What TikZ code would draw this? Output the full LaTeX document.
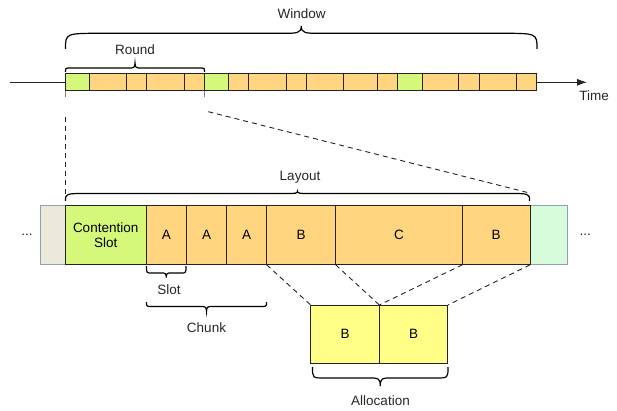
\documentclass[tikz,border=0pt]{standalone}
\usepackage{fontspec}
\setmainfont{Liberation Sans}
\usetikzlibrary{arrows.meta}
\definecolor{orng}{RGB}{255,213,128}
\definecolor{lgreen}{RGB}{213,247,122}
\definecolor{beige}{RGB}{236,232,218}
\definecolor{mint}{RGB}{214,252,220}
\definecolor{ylw}{RGB}{255,255,136}
\definecolor{edge}{RGB}{35,35,35}
\definecolor{greyedge}{RGB}{140,165,170}
\newcommand\tcellat[4]{\node[tcell, fill=#4, minimum width={(#3-#2)*1pt}] (#1) at ({(#2+#3)/2},82.3) {};}
\newcommand\bcellat[5]{\node[bcell, fill=#4, minimum width={(#3-#2)*1pt}] (#1) at ({(#2+#3)/2},235) {#5};}
% x1, x2, yend, yline, ytip, curl, tipw
\newcommand\cbrace[7]{%
 \draw[braceln] (#1,#3) .. controls (#1,#4) .. ({#1+#6},#4) -- ({(#1+#2)/2-#7},#4)
  .. controls ({(#1+#2)/2-0.25*#7},#4) and ({(#1+#2)/2},#4) .. ({(#1+#2)/2},#5)
  .. controls ({(#1+#2)/2},#4) and ({(#1+#2)/2+0.25*#7},#4) .. ({(#1+#2)/2+#7},#4)
  -- ({#2-#6},#4) .. controls (#2,#4) .. (#2,#3);}
\begin{document}
\begin{tikzpicture}[x=1pt,y=-1pt, font=\fontsize{13.5}{15.5}\selectfont,
 cell/.style={draw=edge, line width=1pt, inner sep=0pt, outer sep=0pt, align=center},
 tcell/.style={cell, minimum height=16.7pt},
 bcell/.style={cell, minimum height=59.7pt},
 acell/.style={cell, fill=ylw, minimum width=68.6pt, minimum height=58pt},
 dashln/.style={draw=edge, line width=0.9pt, dash pattern=on 5pt off 4pt},
 braceln/.style={draw=black, line width=1.2pt},
 lbl/.style={anchor=base, inner sep=0pt, text=black!85},
 tick/.style={draw=black!50, line width=1pt}]
\useasboundingbox (0,0) rectangle (617,411);
% timeline
\coordinate (tstart) at (10,82.3);
\coordinate (tend) at (587,82.3);
\tcellat{t1}{65}{89.6}{lgreen}
\tcellat{t2}{89.6}{126}{orng}
\tcellat{t3}{126}{146.3}{orng}
\tcellat{t4}{146.3}{184}{orng}
\tcellat{t5}{184}{204.3}{orng}
\tcellat{t6}{204.3}{228.3}{lgreen}
\tcellat{t7}{228.3}{248.8}{orng}
\tcellat{t8}{248.8}{286.3}{orng}
\tcellat{t9}{286.3}{306.8}{orng}
\tcellat{t10}{306.8}{343.3}{orng}
\tcellat{t11}{343.3}{377.5}{orng}
\tcellat{t12}{377.5}{397.7}{orng}
\tcellat{t13}{397.7}{422}{lgreen}
\tcellat{t14}{422}{458}{orng}
\tcellat{t15}{458}{479}{orng}
\tcellat{t16}{479}{516.6}{orng}
\tcellat{t17}{516.6}{536.7}{orng}
\draw[edge, line width=0.9pt] (tstart) -- (t1.west);
\draw[edge, line width=0.9pt, -{Latex[length=10pt,width=7pt]}] (t17.east) -- (tend);
\node[lbl] (time) at (594,101) {Time};
\draw[tick] (t1.south west) -- ++(0,6);
\draw[tick] (t6.south west) -- ++(0,6);
% top braces
\cbrace{65.5}{537}{49}{33.3}{26}{36}{18}
\node[lbl] (window) at (301.7,18.3) {Window};
\cbrace{65.5}{204.5}{72}{68}{63}{5}{6}
\node[lbl] (round) at (135,55) {Round};
% bottom row
\bcellat{g0}{40}{65}{beige}{}
\bcellat{cs}{65}{146.3}{lgreen}{Contention\\Slot}
\bcellat{a1}{146.3}{186.3}{orng}{A}
\bcellat{a2}{186.3}{226.7}{orng}{A}
\bcellat{a3}{226.7}{266.7}{orng}{A}
\bcellat{b1}{266.7}{335.7}{orng}{B}
\bcellat{c1}{335.7}{462.3}{orng}{C}
\bcellat{b2}{462.3}{530}{orng}{B}
\bcellat{g1}{530}{567.5}{mint}{}
\draw[greyedge, line width=1pt] (g0.north east) -- (g0.north west) -- (g0.south west) -- (g0.south east);
\draw[greyedge, line width=1pt] (g1.north west) -- (g1.north east) -- (g1.south east) -- (g1.south west);
\draw[edge, line width=1pt] (g0.north east) -- (g0.south east) (g1.north west) -- (g1.south west);
\node[lbl] (dl) at (27,236) {...};
\node[lbl] (dr) at (585.3,236) {...};
% dashed projection lines
\coordinate (v1) at (65.5,116.7);
\coordinate (v2) at (65.5,196.7);
\coordinate (d1) at (208.3,111.7);
\coordinate (d2) at (529.5,193);
\draw[dashln] (v1) -- (v2);
\draw[dashln] (d1) -- (d2);
\cbrace{65.5}{529.5}{201}{193.5}{191}{22}{10}
\node[lbl] (layout) at (300,181) {Layout};
% allocation
\node[acell] (al1) at (345,334) {B};
\node[acell] (al2) at (413.6,334) {B};
\draw[dashln] (b1.south west) -- (al1.north west);
\draw[dashln] (b1.south east) -- (al1.north east);
\draw[dashln] (c1.south east) -- (al1.north east);
\draw[dashln] (b2.south east) -- (al2.north east);
% lower braces
\cbrace{146.5}{186}{266}{273}{277.5}{5}{5}
\node[lbl] (slot) at (169,294.3) {Slot};
\cbrace{146.5}{266.5}{302}{306.5}{311.5}{6}{6}
\node[lbl] (chunk) at (206.5,332.3) {Chunk};
\cbrace{312.5}{448}{367}{378}{386}{12}{10}
\node[lbl] (alloc) at (380.5,405) {Allocation};
\end{tikzpicture}
\end{document}
